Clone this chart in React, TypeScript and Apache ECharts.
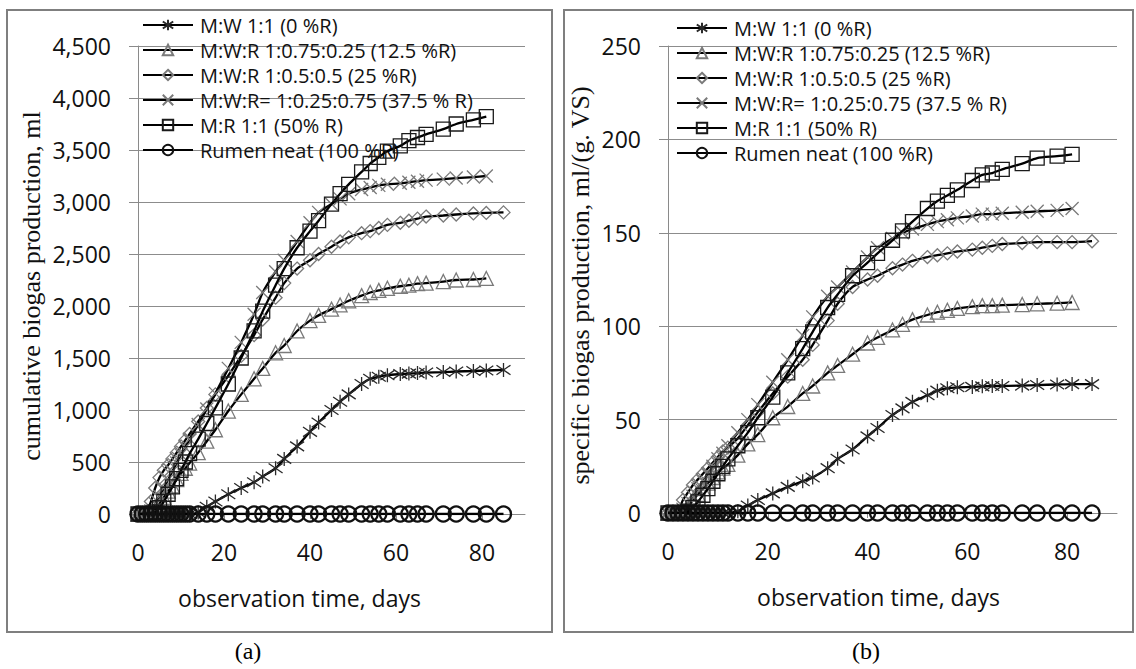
import { useEffect, useRef } from "react";
import * as echarts from "echarts";

// observation days (sampling schedule)
const days = [0, 1, 2, 3, 4, 5, 6, 7, 8, 9, 10, 11, 12, 14, 16, 18, 21, 24, 27, 29, 32, 34, 37, 40, 42, 45, 47, 49, 52, 54, 56, 58, 61, 63, 65, 67, 71, 74, 78, 81, 85];

const seriesNames = [
  "M:W 1:1 (0 %R)",
  "M:W:R 1:0.75:0.25 (12.5 %R)",
  "M:W:R 1:0.5:0.5 (25 %R)",
  "M:W:R= 1:0.25:0.75 (37.5 % R)",
  "M:R 1:1 (50% R)",
  "Rumen neat (100 %R)",
];

const xTicks = [0, 20, 40, 60, 80];
const cumTicks = [0, 500, 1000, 1500, 2000, 2500, 3000, 3500, 4000, 4500];
const specTicks = [0, 50, 100, 150, 200, 250];

// (a) cumulative biogas production, ml
const cumStar = [0, 0, 0, 0, 0, 0, 0, 0, 0, 0, 0, 0, 0, 15, 70, 120, 190, 250, 305, 360, 440, 530, 650, 790, 880, 1000, 1080, 1150, 1250, 1300, 1320, 1335, 1345, 1350, 1355, 1360, 1365, 1370, 1375, 1380, 1385];
const cumTri = [0, 0, 0, 10, 40, 100, 160, 220, 270, 330, 390, 440, 490, 590, 700, 810, 990, 1150, 1300, 1400, 1550, 1620, 1760, 1860, 1910, 1970, 2010, 2050, 2100, 2130, 2150, 2170, 2190, 2200, 2215, 2220, 2235, 2250, 2255, 2265];
const cumDia = [0, 0, 20, 120, 250, 350, 420, 470, 530, 590, 650, 710, 770, 890, 1020, 1150, 1330, 1520, 1720, 1870, 2080, 2220, 2360, 2440, 2500, 2570, 2620, 2660, 2700, 2720, 2750, 2780, 2800, 2820, 2840, 2860, 2870, 2880, 2890, 2895, 2900];
const cumX = [0, 0, 0, 30, 100, 170, 250, 330, 410, 490, 570, 640, 720, 860, 1010, 1160, 1400, 1650, 1920, 2130, 2330, 2440, 2620, 2800, 2900, 2980, 3030, 3080, 3120, 3140, 3160, 3170, 3180, 3190, 3200, 3210, 3220, 3230, 3240, 3250];
const cumSq = [0, 0, 0, 0, 20, 60, 120, 190, 260, 340, 420, 500, 580, 720, 870, 1020, 1250, 1500, 1760, 1950, 2200, 2360, 2560, 2720, 2820, 2980, 3080, 3170, 3290, 3370, 3430, 3490, 3540, 3590, 3620, 3650, 3700, 3750, 3790, 3820];
const cumRumen = [0, 0, 0, 0, 0, 0, 0, 0, 0, 0, 0, 0, 0, 0, 0, 0, 0, 0, 0, 0, 0, 0, 0, 0, 0, 0, 0, 0, 0, 0, 0, 0, 0, 0, 0, 0, 0, 0, 0, 0, 0];

// (b) specific biogas production, ml/(g VS)
const spStar = [0, 0, 0, 0, 0, 0, 0, 0, 0, 0, 0, 0, 0, 1, 4, 7, 10.5, 14, 17, 19, 24, 29, 34, 41, 45.5, 52.5, 56, 59.5, 63, 65.5, 66.8, 67.3, 67.5, 67.8, 68, 68, 68.2, 68.5, 68.8, 69, 69];
const spTri = [0, 0, 0, 0.5, 3, 7, 10, 13, 16, 19, 22, 24, 26, 31, 37, 42, 51, 57, 64, 68, 75, 79, 85, 91, 94, 98, 101, 103.5, 106, 107.5, 108.5, 109.5, 110.5, 111, 111, 111.3, 111.6, 112, 112.3, 112.7];
const spDia = [0, 0, 1, 7, 11, 15, 18, 21, 24, 27, 30, 33, 35, 40, 47, 54, 64, 73, 82, 90, 103, 112, 121, 125, 127, 131, 133, 135, 137, 138, 139, 140, 141, 142, 143, 144, 144.5, 145, 145, 145, 145.5];
const spX = [0, 0, 0, 2, 5, 9, 13, 17, 21, 25, 29, 32, 36, 43, 50, 58, 70, 82, 95, 105, 116, 121, 129, 137, 142, 147, 150, 152, 154.5, 156, 157, 158, 159, 160, 160, 160.5, 161, 161.5, 162, 163];
const spSq = [0, 0, 0, 0, 1, 3, 6, 9.5, 13, 17, 21, 25, 29, 36, 43, 51, 62, 75, 88, 97, 110, 117, 127, 134, 139, 146, 151, 156, 163, 167, 170, 173, 178, 181, 182, 184, 187, 190, 191, 192];
const spRumen = [0, 0, 0, 0, 0, 0, 0, 0, 0, 0, 0, 0, 0, 0, 0, 0, 0, 0, 0, 0, 0, 0, 0, 0, 0, 0, 0, 0, 0, 0, 0, 0, 0, 0, 0, 0, 0, 0, 0, 0, 0];

const STAR = "path://M5,0L5,10M0.7,1.6L9.3,8.4M0.7,8.4L9.3,1.6";
const CROSS = "path://M0,0L10,10M0,10L10,0";

const markerStyles = [
  { symbol: STAR, size: 14, color: "#2a2a2a", width: 1.3 },
  { symbol: "triangle", size: 14, color: "#7a7a7a", width: 1.3 },
  { symbol: "diamond", size: 13, color: "#7a7a7a", width: 1.3 },
  { symbol: CROSS, size: 13, color: "#7a7a7a", width: 1.3 },
  { symbol: "rect", size: 14, color: "#1a1a1a", width: 1.3 },
  { symbol: "circle", size: 15, color: "#111", width: 2.3 },
];

const pairs = (vals: number[]) => vals.map((v, i) => [days[i], v]);

const SANS = "Open Sans";
const SERIF = "Liberation Serif";

function makeSeries(idx: number, gridIdx: number, vals: number[]) {
  const m = markerStyles[idx];
  return {
    type: "line",
    name: seriesNames[idx],
    xAxisIndex: gridIdx,
    yAxisIndex: gridIdx,
    data: pairs(vals),
    smooth: 0.25,
    symbol: m.symbol,
    symbolSize: m.size,
    showSymbol: true,
    lineStyle: { color: "#000", width: 2.3 },
    itemStyle: { color: "rgba(255,255,255,0)", borderColor: m.color, borderWidth: m.width },
    emphasis: { disabled: true },
    z: 2 + idx,
  };
}

function xAxis(gridIndex: number, shiftLeft: number) {
  return {
    type: "value",
    gridIndex,
    min: 0,
    max: 90,
    interval: 20,
    axisLine: { show: true, onZero: false, lineStyle: { color: "#8a8a8a", width: 1 } },
    axisTick: { show: true, length: 5, lineStyle: { color: "#8a8a8a" }, customValues: xTicks },
    axisLabel: { margin: 26, fontSize: 23, fontFamily: SANS, color: "#111", customValues: xTicks },
    splitLine: { show: false },
    name: "observation time, days",
    nameLocation: "middle",
    nameGap: 72,
    nameTextStyle: { fontSize: 23, fontFamily: SANS, color: "#111", padding: [0, shiftLeft * 2, 0, 0] },
  };
}

function yAxis(gridIndex: number, max: number, interval: number, name: string, nameGap: number, ticks: number[]) {
  return {
    type: "value",
    gridIndex,
    min: 0,
    max,
    interval,
    axisLine: { show: true, lineStyle: { color: "#8a8a8a", width: 1 } },
    axisTick: { show: true, length: 9, lineStyle: { color: "#8a8a8a" }, customValues: ticks },
    axisLabel: {
      margin: 27,
      fontSize: 23,
      fontFamily: SANS,
      color: "#111",
      customValues: ticks,
      formatter: (v: number) => v.toLocaleString("en-US"),
    },
    splitLine: { show: true, lineStyle: { color: "#8c8c8c", width: 1 } },
    name,
    nameLocation: "middle",
    nameGap,
    nameTextStyle: { fontSize: 26, fontFamily: SERIF, color: "#111", padding: [0, 12, 0, 0] },
  };
}

function legend(left: number, top: number) {
  return {
    orient: "vertical",
    left,
    top,
    padding: 0,
    itemWidth: 50,
    itemHeight: 13,
    itemGap: 5,
    selectedMode: false,
    data: seriesNames,
    textStyle: { fontSize: 20, fontFamily: SANS, color: "#111", lineHeight: 20, padding: [0, 0, 0, 2] },
  };
}

const option = {
  animation: false,
  backgroundColor: "#fff",
  grid: [
    { left: 138, top: 46, width: 387, height: 468 },
    { left: 668, top: 46, width: 449, height: 467 },
  ],
  xAxis: [xAxis(0, 32), xAxis(1, 14)],
  yAxis: [
    yAxis(0, 4500, 500, "cumulative biogas production, ml", 94, cumTicks),
    yAxis(1, 250, 50, "specific biogas production, ml/(g. VS)", 75, specTicks),
  ],
  legend: [legend(142, 15), legend(676, 18)],
  series: [
    makeSeries(0, 0, cumStar),
    makeSeries(1, 0, cumTri),
    makeSeries(2, 0, cumDia),
    makeSeries(3, 0, cumX),
    makeSeries(4, 0, cumSq),
    makeSeries(5, 0, cumRumen),
    makeSeries(0, 1, spStar),
    makeSeries(1, 1, spTri),
    makeSeries(2, 1, spDia),
    makeSeries(3, 1, spX),
    makeSeries(4, 1, spSq),
    makeSeries(5, 1, spRumen),
  ],
  graphic: [
    { type: "rect", shape: { x: 7, y: 10, width: 545, height: 622 }, style: { fill: "none", stroke: "#7f7f7f", lineWidth: 2 }, z: -1 },
    { type: "rect", shape: { x: 564, y: 10, width: 569, height: 622 }, style: { fill: "none", stroke: "#7f7f7f", lineWidth: 2 }, z: -1 },
    { type: "text", x: 248, y: 651, style: { text: "(a)", fontSize: 24, fontFamily: SERIF, fill: "#000", align: "center", verticalAlign: "middle" } },
    { type: "text", x: 866, y: 651, style: { text: "(b)", fontSize: 24, fontFamily: SERIF, fill: "#000", align: "center", verticalAlign: "middle" } },
  ],
};

export default function App() {
  const ref = useRef<HTMLDivElement>(null);
  useEffect(() => {
    const chart = echarts.init(ref.current!, undefined, { renderer: "svg" });
    chart.setOption(option as any);
    return () => chart.dispose();
  }, []);
  return <div ref={ref} style={{ position: "absolute", left: 0, top: 0, width: 1136, height: 669 }} />;
}
